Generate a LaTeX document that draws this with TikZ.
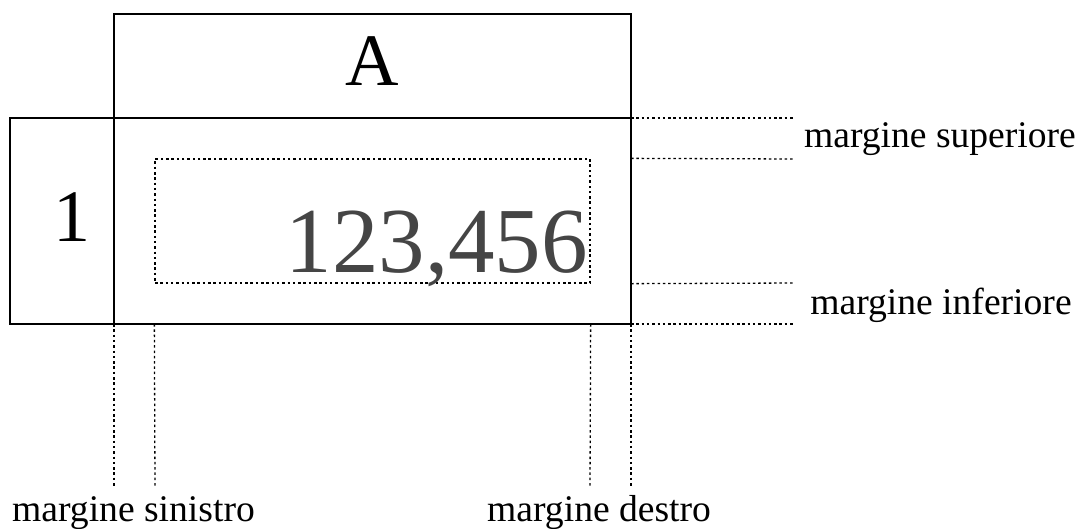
\documentclass[tikz,border=0pt]{standalone}
\usepackage{fontspec}
\setmainfont{Liberation Serif}
\begin{document}
\begin{tikzpicture}[x=1pt,y=-1pt,
  box/.style={draw=black, line width=1.4pt, inner sep=0pt, outer sep=0pt},
  marg/.style={draw=black, line width=1.3pt, dash pattern=on 2.5pt off 2.8pt},
  big/.style={inner sep=0pt, font=\fontsize{74}{74}\selectfont},
  num/.style={inner sep=0pt, text=black!73, font=\fontsize{93}{93}\selectfont},
  lab/.style={inner sep=0pt, font=\fontsize{37.6}{40}\selectfont}]
\useasboundingbox (0,0) rectangle (1081,528);
% boxes
\node[box, minimum width=517pt, minimum height=104pt] (head) at (372.5,66) {};
\node[box, minimum width=104pt, minimum height=206pt] (row) at (62,221) {};
\node[box, minimum width=517pt, minimum height=206pt] (cell) at (372.5,221) {};
\node[marg, minimum width=435pt, minimum height=124pt, inner sep=0pt] (inner) at (372.5,221) {};
% texts
\node[big, anchor=base] (ta) at (372.5,85.7) {A};
\node[big, anchor=base] (t1) at (71.5,241.7) {1};
\node[num, anchor=base east] (tn) at (588,272) {123,456};
% margin coordinates
\coordinate (r1) at (795,118);
\coordinate (r2) at (795,159);
\coordinate (r3) at (795,283);
\coordinate (r4) at (795,324);
\coordinate (b1) at (114,487);
\coordinate (b2) at (155,487);
\coordinate (b3) at (590,487);
\coordinate (b4) at (631,487);
\draw[marg] (cell.north east) -- (r1);
\draw[marg] (cell.east |- inner.north) -- (r2);
\draw[marg] (cell.east |- inner.south) -- (r3);
\draw[marg] (cell.south east) -- (r4);
\draw[marg] (cell.south west) -- (b1);
\draw[marg] (inner.west |- cell.south) -- (b2);
\draw[marg] (inner.east |- cell.south) -- (b3);
\draw[marg] (cell.south east) -- (b4);
% labels
\node[lab, anchor=base] (ls) at (940,147) {margine superiore};
\node[lab, anchor=base] (li) at (941,314) {margine inferiore};
\node[lab, anchor=base west] (lsx) at (12,521.5) {margine sinistro};
\node[lab, anchor=base west] (ldx) at (487,521.5) {margine destro};
\end{tikzpicture}
\end{document}
